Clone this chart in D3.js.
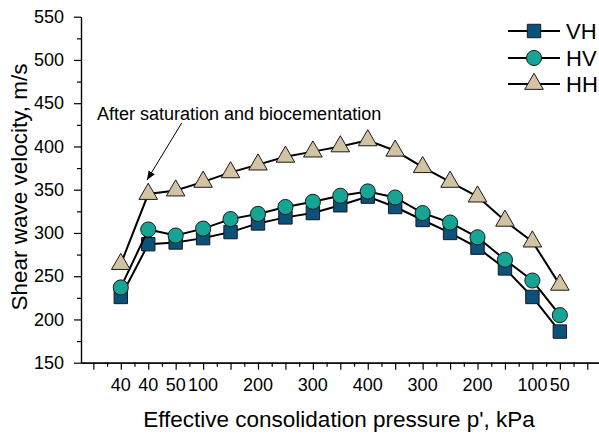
<!DOCTYPE html>
<html>
<head>
<meta charset="utf-8">
<script src="https://cdn.jsdelivr.net/npm/d3@7"></script>
<style>
  body { margin: 0; background: #fff; }
  svg text { font-family: Arial, "Liberation Sans", sans-serif; fill: #000; }
</style>
</head>
<body>
<div class="canvas"></div>
<script>
// step index along the loading / unloading path
var steps = [1, 2, 3, 4, 5, 6, 7, 8, 9, 10, 11, 12, 13, 14, 15, 16, 17];

var vhValues = [226, 287, 289, 294, 301, 311, 318, 323, 332, 342, 330, 315, 300, 283, 259, 226, 186];
var hvValues = [237, 304, 297, 305, 316, 322, 330, 336, 343, 348, 341, 323, 312, 295, 269, 245, 205];
var hhValues = [264, 345, 349, 359, 370, 379, 388, 394, 400, 407, 395, 376, 359, 342, 314, 290, 240];

var tickPositions = [1, 2, 3, 4, 6, 8, 10, 12, 14, 16, 17];
var tickLabels = ["40", "40", "50", "100", "200", "300", "400", "300", "200", "100", "50"];

var yTicks = [150, 200, 250, 300, 350, 400, 450, 500, 550];

var seriesNames = ["VH", "HV", "HH"];

var svg = d3.select(".canvas")
	.append("svg")
	.attr("width", 599)
	.attr("height", 436);

var x = d3.scaleLinear().domain([-0.45, 18.5]).range([81, 601]);
var y = d3.scaleLinear().domain([150, 550]).range([362.7, 16.7]);

// x axis: major ticks every step, minor halfway
var xAxis = d3.axisBottom(x)
	.tickValues(d3.range(0, 19))
	.tickSize(7)
	.tickSizeOuter(0)
	.tickFormat("");
var gx = svg.append("g").attr("transform", "translate(0,362.7)").call(xAxis);
gx.append("g").call(d3.axisBottom(x).tickValues(d3.range(0.5, 18.5, 1)).tickSize(4).tickSizeOuter(0).tickFormat(""));
gx.selectAll(".domain").attr("stroke", "#000").attr("stroke-width", 1.2);
gx.selectAll("line").attr("stroke", "#000").attr("stroke-width", 1.2);

svg.selectAll(".xlab")
	.data(tickPositions)
	.enter()
	.append("text")
	.attr("class", "xlab")
	.attr("x", function(d){ return x(d); })
	.attr("y", 391)
	.attr("text-anchor", "middle")
	.style("font-size", "18px")
	.text(function(d, i){ return tickLabels[i]; });

// y axis
var yAxis = d3.axisLeft(y)
	.tickValues(yTicks)
	.tickSize(7)
	.tickSizeOuter(0)
	.tickPadding(10);
var gy = svg.append("g").attr("transform", "translate(81,0)").call(yAxis);
gy.append("g").call(d3.axisLeft(y).tickValues(d3.range(175, 550, 50)).tickSize(4).tickSizeOuter(0).tickFormat(""));
gy.selectAll(".domain").attr("stroke", "#000").attr("stroke-width", 1.2);
gy.selectAll("line").attr("stroke", "#000").attr("stroke-width", 1.2);
gy.selectAll("text").style("font-size", "18px").style("font-family", "Arial, 'Liberation Sans', sans-serif");

// axis titles
svg.append("text")
	.attr("transform", "translate(27,187) rotate(-90)")
	.attr("text-anchor", "middle")
	.style("font-size", "22.5px")
	.text("Shear wave velocity, m/s");

svg.append("text")
	.attr("x", 339)
	.attr("y", 427)
	.attr("text-anchor", "middle")
	.style("font-size", "22.5px")
	.text("Effective consolidation pressure p', kPa");

var line = d3.line()
	.x(function(d){ return x(d[0]); })
	.y(function(d){ return y(d[1]); });

var sqr = d3.symbol().type(d3.symbolSquare).size(180);
var circ = d3.symbol().type(d3.symbolCircle).size(180);
var tri = d3.symbol().type(d3.symbolTriangle).size(150);

var series = [
	{ name: "VH", values: vhValues, shape: sqr, fill: "#0b5179" },
	{ name: "HV", values: hvValues, shape: circ, fill: "#16a594" },
	{ name: "HH", values: hhValues, shape: tri, fill: "#d3c3a5" }
];

series.forEach(function(s){
	var pts = steps.map(function(st, i){ return [st, s.values[i]]; });
	svg.append("path")
		.datum(pts)
		.attr("d", line)
		.attr("fill", "none")
		.attr("stroke", "#000")
		.attr("stroke-width", 2);
	svg.selectAll(".m" + s.name)
		.data(pts)
		.enter()
		.append("path")
		.attr("class", "m" + s.name)
		.attr("d", s.shape)
		.attr("transform", function(d){ return "translate(" + x(d[0]) + "," + y(d[1]) + ")"; })
		.attr("fill", s.fill)
		.attr("stroke", "#1a1a1a")
		.attr("stroke-width", 1);
});

// legend
var legendY = [31, 58, 84];
series.forEach(function(s, i){
	var g = svg.append("g").attr("transform", "translate(0," + legendY[i] + ")");
	g.append("line")
		.attr("x1", 508).attr("x2", 560)
		.attr("y1", 0).attr("y2", 0)
		.attr("stroke", "#000").attr("stroke-width", 2);
	g.append("path")
		.attr("d", s.shape)
		.attr("transform", "translate(534,0)")
		.attr("fill", s.fill)
		.attr("stroke", "#1a1a1a")
		.attr("stroke-width", 1);
	g.append("text")
		.attr("x", 566)
		.attr("y", 8)
		.style("font-size", "22px")
		.text(seriesNames[i]);
});

// annotation
svg.append("defs").append("marker")
	.attr("id", "arrow")
	.attr("viewBox", "0 0 10 10")
	.attr("refX", 10).attr("refY", 5)
	.attr("markerWidth", 9).attr("markerHeight", 9)
	.attr("orient", "auto")
	.append("path")
	.attr("d", "M0,1 L10,5 L0,9 z")
	.attr("fill", "#000");

svg.append("line")
	.attr("x1", 181.7).attr("y1", 123)
	.attr("x2", 147).attr("y2", 180)
	.attr("stroke", "#000")
	.attr("stroke-width", 1)
	.attr("marker-end", "url(#arrow)");

svg.append("text")
	.attr("x", 97)
	.attr("y", 120)
	.style("font-size", "18px")
	.text("After saturation and biocementation");
</script>
</body>
</html>
